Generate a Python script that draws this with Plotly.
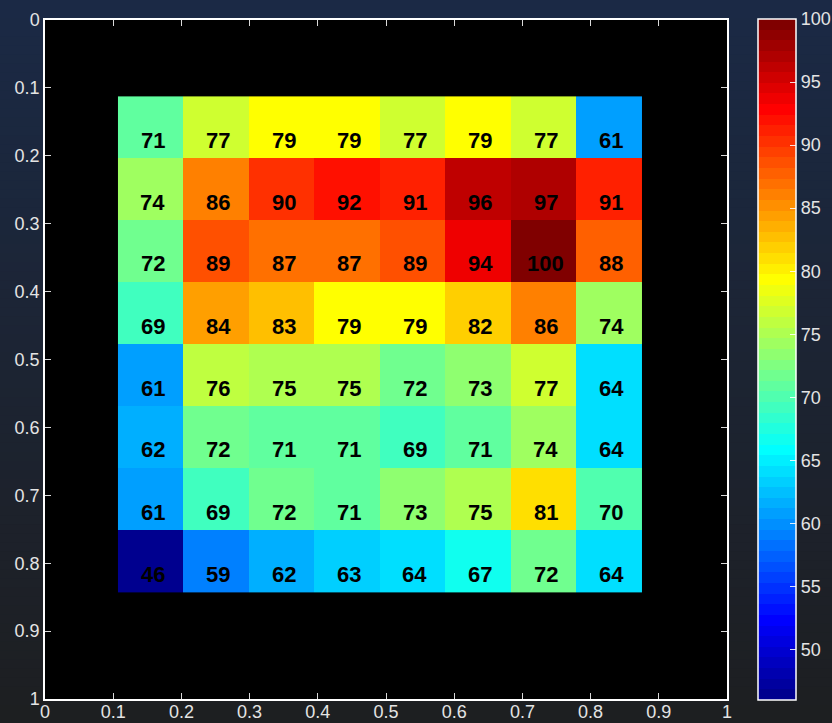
import numpy as np
import plotly.graph_objects as go

# Cell centres (axis units) and the measured grid, rows listed top to bottom
x_centers = [0.155, 0.251, 0.347, 0.443, 0.539, 0.635, 0.731, 0.827]
y_centers = [0.158, 0.249, 0.340, 0.432, 0.523, 0.614, 0.706, 0.797]
values = [
    [71, 77, 79, 79, 77, 79, 77, 61],
    [74, 86, 90, 92, 91, 96, 97, 91],
    [72, 89, 87, 87, 89, 94, 100, 88],
    [69, 84, 83, 79, 79, 82, 86, 74],
    [61, 76, 75, 75, 72, 73, 77, 64],
    [62, 72, 71, 71, 69, 71, 74, 64],
    [61, 69, 72, 71, 73, 75, 81, 70],
    [46, 59, 62, 63, 64, 67, 72, 64],
]
axis_ticks = [0, 0.1, 0.2, 0.3, 0.4, 0.5, 0.6, 0.7, 0.8, 0.9, 1]
bar_ticks = [50, 55, 60, 65, 70, 75, 80, 85, 90, 95, 100]
c_min, c_max = 46, 100


def jet(m=64):
    """Classic 64-level jet colormap."""
    n = int(np.ceil(m / 4))
    u = np.concatenate([np.arange(1, n + 1) / n, np.ones(n - 1), np.arange(n, 0, -1) / n])
    g = int(np.ceil(n / 2)) - (1 if m % 4 == 1 else 0) + np.arange(1, len(u) + 1)
    r = g + n
    b = g - n
    J = np.zeros((m, 3))
    J[r[r <= m] - 1, 0] = u[r <= m]
    J[g[g <= m] - 1, 1] = u[g <= m]
    J[b[b >= 1] - 1, 2] = u[b >= 1]
    return J


cmap = jet(64)
m = len(cmap)
colorscale = []
for i, c in enumerate(cmap):
    rgb = "rgb(%d,%d,%d)" % tuple(int(round(v * 255)) for v in c)
    colorscale.append([i / m, rgb])
    colorscale.append([(i + 1) / m, rgb])

label_font = dict(family="Liberation Sans, Arial", size=18, color="#e4e4e4")

fig = go.Figure()
fig.add_trace(go.Heatmap(
    x=x_centers, y=y_centers, z=values,
    zmin=c_min, zmax=c_max, colorscale=colorscale,
    hoverongaps=False,
    colorbar=dict(
        x=1.0455, xanchor="left", xpad=0,
        y=0.5, yanchor="middle", ypad=0,
        lenmode="pixels", len=681, thickness=38,
        outlinecolor="white", outlinewidth=1.5,
        tickvals=bar_ticks, ticks="inside", ticklen=6,
        tickcolor="rgba(255,255,255,0.85)",
        tickfont=label_font,
    ),
))

# Value labels in each cell
for yi, row in zip(y_centers, values):
    for xi, v in zip(x_centers, row):
        fig.add_annotation(
            x=xi, y=yi, text=str(v), showarrow=False, yshift=-13, xshift=2,
            font=dict(family="Liberation Sans, Arial", size=22, color="black", weight="bold"),
        )

# Vertical background gradient, navy at the top fading to charcoal at the bottom
top_rgb = np.array([27, 42, 70])
bot_rgb = np.array([30, 31, 33])
y_lo, y_hi = -24 / 679, 1 + 20 / 679
x_lo, x_hi = -45 / 682, 1 + 105 / 682
n_bands = 80
shapes = []
for k in range(n_bands):
    t = (k + 0.5) / n_bands
    col = bot_rgb + (top_rgb - bot_rgb) * t
    y0 = y_lo + (y_hi - y_lo) * k / n_bands
    y1 = y_lo + (y_hi - y_lo) * (k + 1) / n_bands + 0.002
    shapes.append(dict(type="rect", xref="paper", yref="paper", x0=x_lo, x1=x_hi,
                       y0=y0, y1=y1, fillcolor="rgb(%d,%d,%d)" % tuple(col.astype(int)),
                       line=dict(width=0), layer="below"))
shapes.append(dict(type="rect", xref="paper", yref="paper", x0=0, x1=1, y0=0, y1=1,
                   fillcolor="black", line=dict(width=0), layer="below"))

axis_style = dict(
    range=[0, 1], tickvals=axis_ticks, ticks="inside", ticklen=6,
    tickcolor="rgba(255,255,255,0.85)", tickwidth=1,
    showline=True, linecolor="white", linewidth=1.5, mirror="ticks",
    showgrid=False, zeroline=False,
    tickfont=label_font,
)

fig.update_layout(
    width=832, height=723,
    margin=dict(l=45, r=105, t=20, b=24, autoexpand=False),
    paper_bgcolor="rgb(28,36,52)", plot_bgcolor="black",
    xaxis=dict(**axis_style, ticklabelstandoff=-4),
    yaxis=dict(**{**axis_style, "range": [1, 0]}),
    shapes=shapes,
    showlegend=False,
)

fig.write_html("out.html")
